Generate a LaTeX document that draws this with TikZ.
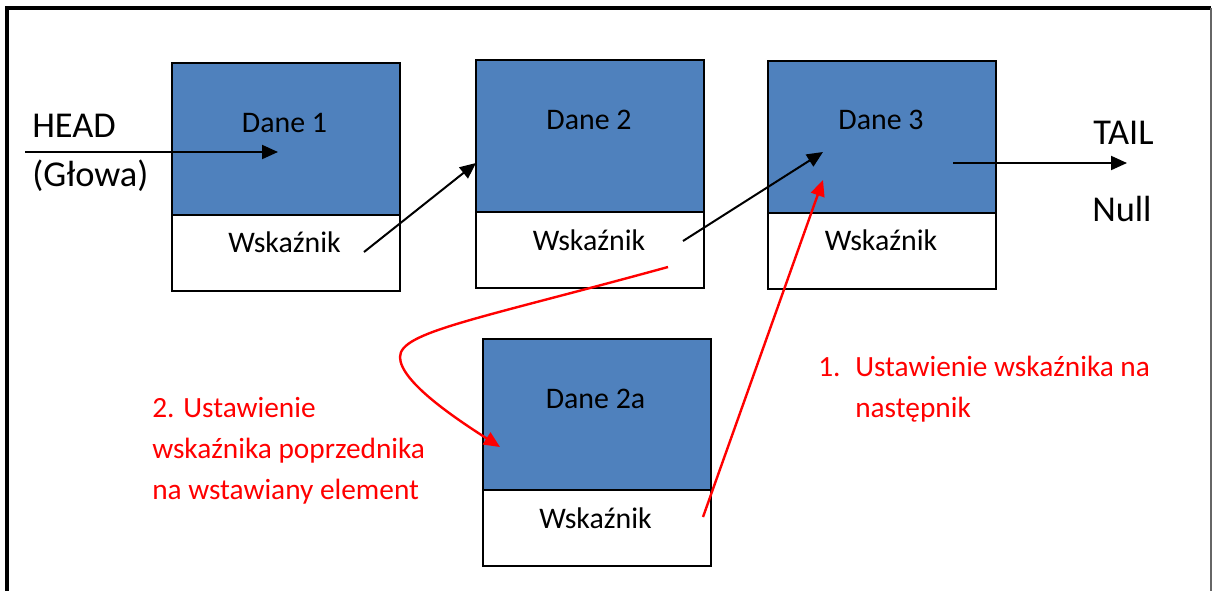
\documentclass[tikz,border=0pt]{standalone}
\usepackage{fontspec}
\setmainfont{Carlito}
\usetikzlibrary{arrows.meta,calc}
\definecolor{boxblue}{HTML}{4F81BD}
\definecolor{myred}{HTML}{FF0000}
\definecolor{framegray}{HTML}{666666}
\begin{document}
\begin{tikzpicture}[x=0.75pt,y=-0.75pt,
  datab/.style={draw=black,line width=1.2pt,fill=boxblue,minimum width=171pt,minimum height=114pt,inner sep=0pt,anchor=north west},
  ptrb/.style={draw=black,line width=1.2pt,fill=white,minimum width=171pt,minimum height=57pt,inner sep=0pt,anchor=north west},
  boxtxt/.style={font=\fontsize{22.4}{27}\selectfont,anchor=base,inner sep=0pt},
  bigtxt/.style={font=\fontsize{27.3}{32}\selectfont,anchor=base west,inner sep=0pt},
  redtxt/.style={text=myred,font=\fontsize{22}{30.75}\selectfont,anchor=base west,inner sep=0pt,align=left},
  blk/.style={line width=1.5pt,-{Triangle[length=12pt,width=10.5pt]}},
  redarr/.style={draw=myred,line width=1.8pt,-{Triangle[length=12pt,width=10.5pt]}}]
\useasboundingbox (0,0) rectangle (1213,590);
% frame
\draw[line width=2.4pt] (7,600) -- (7,8) -- (1211,8);
\draw[framegray,line width=1.4pt] (1211,8) -- (1211,600);
% boxes
\node[datab] (d1) at (171,62) {};
\node[ptrb] (w1) at (171,214) {};
\node[datab] (d2) at (475,59) {};
\node[ptrb] (w2) at (475,211) {};
\node[datab] (d3) at (767,60) {};
\node[ptrb] (w3) at (767,212) {};
\node[datab] (d2a) at (482,338) {};
\node[ptrb] (w2a) at (482,489) {};
% box texts
\node[boxtxt] (t1) at (284.5,132) {Dane 1};
\node[boxtxt] (p1) at (284.5,252) {Wskaźnik};
\node[boxtxt] (t2) at (589,129) {Dane 2};
\node[boxtxt] (p2) at (589,250) {Wskaźnik};
\node[boxtxt] (t3) at (881,129) {Dane 3};
\node[boxtxt] (p3) at (881,250) {Wskaźnik};
\node[boxtxt] (t2a) at (595.5,408) {Dane 2a};
\node[boxtxt] (p2a) at (595.5,528) {Wskaźnik};
% side labels
\node[bigtxt] (head) at (32,137) {HEAD};
\node[bigtxt] (glowa) at (32,186) {(Głowa)};
\node[bigtxt] (tail) at (1093,144) {TAIL};
\node[bigtxt] (null) at (1092,221) {Null};
% red labels (anchor = baseline of last line)
\node[redtxt] (r2) at (152,499) {2. Ustawienie\\wskaźnika poprzednika\\na wstawiany element};
\node[redtxt] (r1) at (818,417) {\makebox[27.75pt][l]{1.}Ustawienie wskaźnika na\\\hspace*{27.75pt}następnik};
% arrow end points
\coordinate (hs) at (25,152);
\coordinate (he) at (278,152);
\coordinate (a1s) at (364,252);
\coordinate (a1e) at (476,163);
\coordinate (a2s) at (683,241);
\coordinate (a2e) at (823,152);
\coordinate (ts) at (953,163);
\coordinate (te) at (1127,163);
\coordinate (rs) at (703,517);
\coordinate (re) at (823,180);
\coordinate (cs) at (668,267);
\coordinate (cm) at (400,357);
\coordinate (ce) at (500,447);
% black arrows
\draw[blk] (hs) -- (he);
\draw[blk] (a1s) -- (a1e);
\draw[blk] (a2s) -- (a2e);
\draw[blk] (ts) -- (te);
% red arrows
\draw[redarr] (rs) -- (re);
\draw[redarr] (cs) .. controls (475,320) and (400,332) .. (cm) .. controls (400,382) and (458,420) .. (ce);
\end{tikzpicture}
\end{document}
